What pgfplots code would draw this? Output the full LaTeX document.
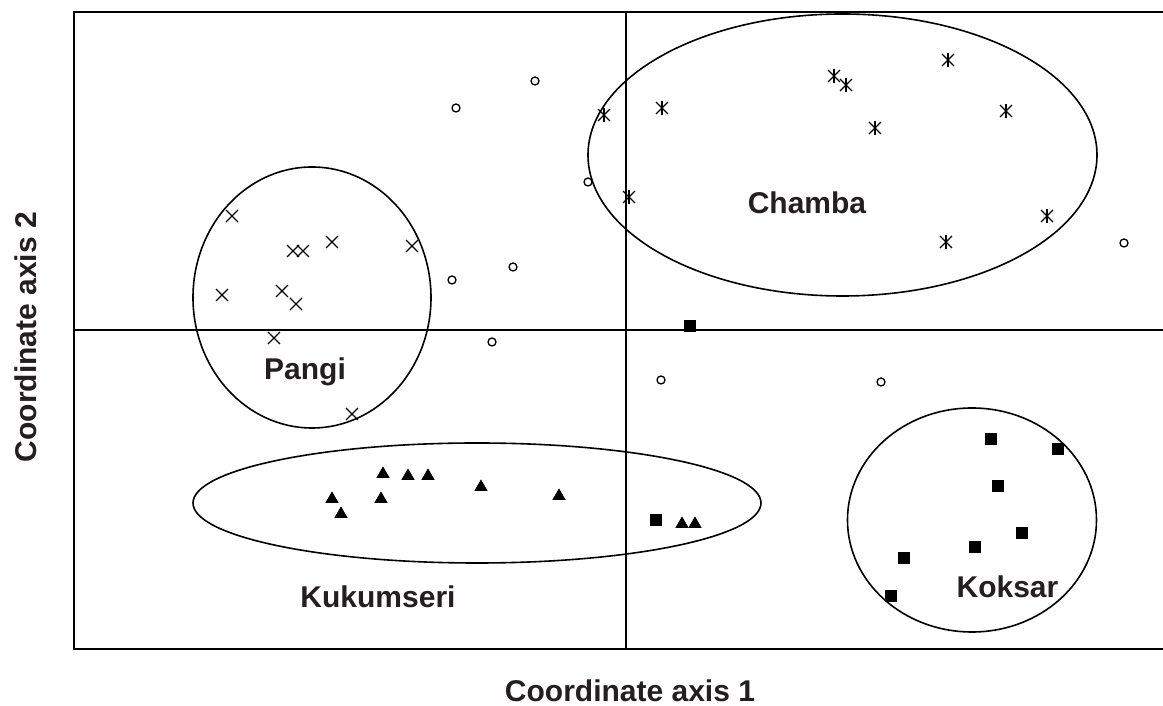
\documentclass[border=0pt]{standalone}
\usepackage{fontspec}
\setmainfont{Liberation Sans}
\usepackage{pgfplots}
\pgfplotsset{compat=1.18}
\usepackage{pgfplotstable}

% Ordination scores of the individual samples, by population
\pgfplotstableread{
x y
-3.94 1.14
-3.33 0.79
-3.23 0.79
-2.94 0.88
-2.14 0.84
-4.04 0.35
-3.44 0.39
-3.30 0.26
-3.52 -0.08
-2.74 -0.84
}\pangi

\pgfplotstableread{
x y
-0.22 2.15
0.36 2.22
0.03 1.33
2.08 2.54
2.20 2.45
2.49 2.02
3.22 2.70
3.80 2.19
3.20 0.88
4.21 1.14
}\chamba

\pgfplotstableread{
x y
-2.43 -1.44
-2.18 -1.46
-1.98 -1.46
-1.45 -1.57
-0.67 -1.66
-2.94 -1.69
-2.45 -1.69
-2.85 -1.84
0.56 -1.94
0.69 -1.94
}\kukumseri

\pgfplotstableread{
x y
3.65 -1.09
4.32 -1.19
3.72 -1.56
3.96 -2.03
3.49 -2.17
2.78 -2.28
2.65 -2.66
0.30 -1.90
0.64 0.04
}\koksar

\pgfplotstableread{
x y
-1.70 2.22
-0.91 2.49
-0.38 1.48
-1.13 0.63
-1.74 0.50
-1.34 -0.12
0.35 -0.50
2.55 -0.52
4.98 0.87
}\others

\definecolor{txt}{RGB}{35,31,32}
\tikzset{lbl/.style={font=\fontsize{15}{18}\selectfont\bfseries, text=txt, inner sep=0pt, text depth=0pt}}

\begin{document}
\begin{tikzpicture}
\begin{axis}[
  scale only axis,
  width=544.5pt, height=318.5pt,
  xmin=-5.52, xmax=5.37, ymin=-3.19, ymax=3.18,
  axis line style={draw=none},
  ticks=none,
  clip=false,
]
% frame and centre lines
\draw[line width=0.8pt] (axis cs:5.37,3.18) -- (axis cs:-5.52,3.18)
      -- (axis cs:-5.52,-3.19) -- (axis cs:5.37,-3.19);
\draw[line width=0.8pt] (axis cs:0,3.18) -- (axis cs:0,-3.19);
\draw[line width=0.8pt] (axis cs:-5.52,0) -- (axis cs:5.37,0);

% population groupings
\draw[line width=0.8pt] (axis cs:-3.14,0.325) ellipse [x radius=1.19, y radius=1.305];
\draw[line width=0.8pt] (axis cs:2.165,1.75) ellipse [x radius=2.545, y radius=1.41];
\draw[line width=0.8pt] (axis cs:-1.49,-1.73) ellipse [x radius=2.84, y radius=0.60];
\draw[line width=0.8pt] (axis cs:3.46,-1.90) ellipse [x radius=1.245, y radius=1.12];

% samples
\addplot[only marks, mark=x, mark size=4.2pt, mark options={line width=0.65pt, black}] table {\pangi};
\addplot[only marks, mark=x, mark size=4.2pt, mark options={line width=0.65pt, black}] table {\chamba};
\addplot[only marks, mark=|, mark size=3.5pt, mark options={line width=0.65pt, black}] table {\chamba};
\addplot[only marks, mark=triangle*, mark size=3.4pt, mark options={black, fill=black}] table {\kukumseri};
\addplot[only marks, mark=square*, mark size=2.6pt, mark options={black, fill=black}] table {\koksar};
\addplot[only marks, mark=o, mark size=2pt, mark options={line width=0.65pt, black, fill=white}] table {\others};

% group names
\node[lbl, anchor=base] at (axis cs:-3.21,-0.50) {Pangi};
\node[lbl, anchor=base] at (axis cs:1.81,1.16) {Chamba};
\node[lbl, anchor=base] at (axis cs:-2.48,-2.78) {Kukumseri};
\node[lbl, anchor=base] at (axis cs:3.815,-2.68) {Koksar};

% axis titles
\node[lbl, anchor=base] at (axis cs:0.04,-3.72) {Coordinate axis 1};
\node[lbl, anchor=base, rotate=90] at (axis cs:-5.895,-0.07) {Coordinate axis 2};

\coordinate (bbBL) at (axis cs:-6.26,-3.76);
\coordinate (bbTR) at (axis cs:5.37,3.30);
\end{axis}
\pgfresetboundingbox
\path[use as bounding box] (bbBL) rectangle (bbTR);
\end{tikzpicture}
\end{document}
